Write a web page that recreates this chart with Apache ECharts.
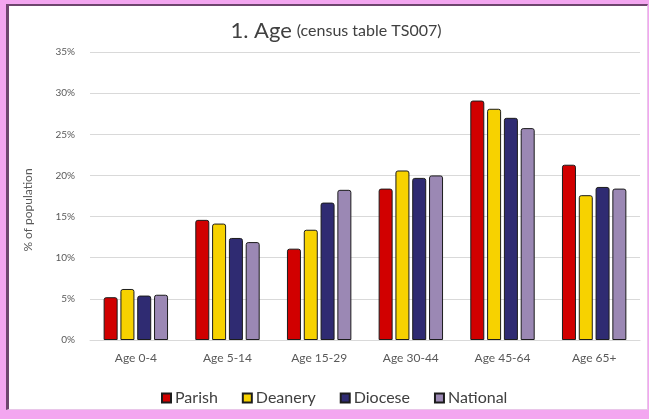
<!DOCTYPE html>
<html>
<head>
<meta charset="utf-8">
<script src="https://cdn.jsdelivr.net/npm/echarts@6/dist/echarts.min.js"></script>
<style>
  html, body { margin: 0; padding: 0; width: 649px; height: 419px; background: #f3a6f0; overflow: hidden; }
  #panel { position: absolute; left: 6px; top: 4px; width: 638px; height: 403px; background: #ffffff;
           border-left: 3px solid #6e456e; border-top: 2px solid #6e456e; border-right: 1px solid #e9c6e9; border-bottom: 1px solid #e9c6e9; }
  #chart { position: absolute; left: 0; top: 0; width: 649px; height: 419px; }
</style>
</head>
<body>
<div id="panel"></div>
<div id="chart"></div>
<script>
const categories = ['Age 0-4', 'Age 5-14', 'Age 15-29', 'Age 30-44', 'Age 45-64', 'Age 65+'];
const seriesNames = ['Parish', 'Deanery', 'Diocese', 'National'];
const parish   = [5.2, 14.6, 11.1, 18.4, 29.1, 21.3];
const deanery  = [6.2, 14.15, 13.4, 20.6, 28.1, 17.6];
const diocese  = [5.4, 12.4, 16.7, 19.7, 27.0, 18.6];
const national = [5.5, 11.9, 18.25, 20.0, 25.75, 18.4];
const yTicks = [0, 5, 10, 15, 20, 25, 30, 35];
const colors = ['#d10000', '#f7d200', '#2f2b72', '#9b88b4'];

const font = 'Lato, "Open Sans", sans-serif';
const values = [parish, deanery, diocese, national];

const chart = echarts.init(document.getElementById('chart'), null, { renderer: 'canvas' });
chart.setOption({
  backgroundColor: 'transparent',
  animation: false,
  title: {
    text: '{a|1. Age} {b|(census table TS007)}',
    left: 331,
    textAlign: 'center',
    top: 15,
    textStyle: {
      fontWeight: 'normal',
      rich: {
        a: { fontFamily: font, fontSize: 22, color: '#404040', fontWeight: 'normal' },
        b: { fontFamily: font, fontSize: 16, color: '#404040', fontWeight: 'normal' }
      }
    }
  },
  legend: {
    data: seriesNames,
    left: 156,
    bottom: 8,
    icon: 'rect',
    itemWidth: 9,
    itemHeight: 9,
    itemGap: 24,
    textStyle: { fontFamily: font, fontSize: 16, color: '#404040', padding: [0, 0, 0, -1] }
  },
  grid: { left: 90, right: 9, top: 52, bottom: 79, containLabel: false },
  xAxis: {
    type: 'category',
    data: categories,
    axisLine: { show: true, lineStyle: { color: '#d9d9d9', width: 1 } },
    axisTick: { show: false },
    axisLabel: { fontFamily: font, fontSize: 12, color: '#595959', margin: 12 }
  },
  yAxis: {
    type: 'value',
    min: yTicks[0],
    max: yTicks[yTicks.length - 1],
    interval: 5,
    name: '% of population',
    nameLocation: 'middle',
    nameGap: 56,
    nameTextStyle: { fontFamily: font, fontSize: 12, color: '#595959', padding: [0, 28, 0, 0] },
    axisLine: { show: false },
    axisTick: { show: false },
    axisLabel: { fontFamily: font, fontSize: 10, color: '#595959', margin: 15, formatter: v => v + '%' },
    splitLine: { lineStyle: { color: '#d9d9d9', width: 1 } }
  },
  series: seriesNames.map((name, i) => ({
    name: name,
    type: 'bar',
    data: values[i],
    barWidth: 14,
    barGap: '20%',
    itemStyle: { color: colors[i], borderColor: '#1c1c1c', borderWidth: 1, borderRadius: [2, 2, 0, 0] }
  }))
});
</script>
</body>
</html>
